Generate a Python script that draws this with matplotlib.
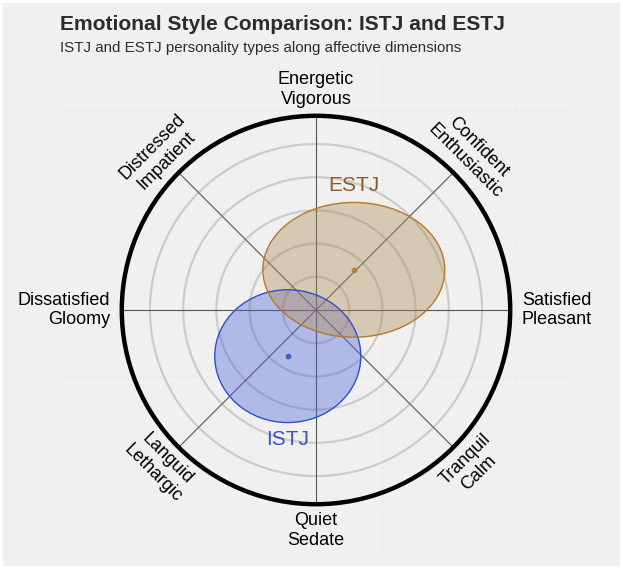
import numpy as np
import matplotlib
matplotlib.use("Agg")
import matplotlib.pyplot as plt
from matplotlib.patches import Ellipse, Circle, Rectangle

plt.rcParams['font.family'] = ['Liberation Sans', 'DejaVu Sans']

# chart data
dim_labels = ["Satisfied\nPleasant", "Confident\nEnthusiastic", "Energetic\nVigorous",
              "Distressed\nImpatient", "Dissatisfied\nGloomy", "Languid\nLethargic",
              "Quiet\nSedate", "Tranquil\nCalm"]
dim_angles = [0, 45, 90, 135, 180, 225, 270, 315]
ring_radii = [1, 2, 3, 4, 5]
outer_radius = 5.85

types = ["ISTJ", "ESTJ"]
centers_x = [-0.85, 1.14]
centers_y = [-1.39, 1.21]
semi_x = [2.2, 2.74]
semi_y = [2.0, 2.03]
fill_colors = ["#4a62d8", "#b08850"]
edge_colors = ["#2f4fc8", "#b8782c"]
text_colors = ["#3a55c0", "#8b5a2b"]

W, H = 623, 569
fig = plt.figure(figsize=(W / 100, H / 100), dpi=100)
fig.patch.set_facecolor("white")
fig.patches.append(Rectangle((3 / W, 3 / H), 1 - 6 / W, 1 - 6 / H, transform=fig.transFigure,
                             facecolor="#f0f0f0", edgecolor="none", zorder=-10))

ax = fig.add_axes([58 / W, 11 / H, 516 / W, 496 / H])
ax.set_facecolor("none")
ax.set_xlim(-7.77, 7.77)
ax.set_ylim(-7.47, 7.47)
ax.set_aspect("equal")
ax.set_xticks([-6, -2, 2, 6])
ax.set_yticks([-6, -2, 2, 6])
ax.tick_params(length=0, labelbottom=False, labelleft=False)
ax.grid(True, color="#e9e9e9", linewidth=0.5, zorder=0)
ax.set_axisbelow(True)
for s in ax.spines.values():
    s.set_visible(False)

# rings
for r in ring_radii:
    ax.add_patch(Circle((0, 0), r, fill=False, edgecolor="#cccccc", linewidth=1.6, zorder=1))

# spokes
for a in dim_angles:
    t = np.deg2rad(a)
    ax.plot([0, outer_radius * np.cos(t)], [0, outer_radius * np.sin(t)],
            color="#555555", linewidth=0.8, zorder=2)

ax.add_patch(Circle((0, 0), outer_radius, fill=False, edgecolor="black", linewidth=3.2, zorder=3))

# dimension labels
for lab, a in zip(dim_labels, dim_angles):
    t = np.deg2rad(a)
    if a == 0:
        ax.text(6.2, 0, lab, ha="left", va="center", fontsize=13, linespacing=1.2)
    elif a == 180:
        ax.text(-6.2, 0, lab, ha="right", va="center", fontsize=13, linespacing=1.2)
    else:
        rot = 0 if a in (90, 270) else (a - 90 if a < 180 else a - 270)
        ax.text(6.65 * np.cos(t), 6.65 * np.sin(t), lab, ha="center", va="center",
                rotation=rot, rotation_mode="anchor", fontsize=13, linespacing=1.2)

# type ellipses
for i, name in enumerate(types):
    ax.add_patch(Ellipse((centers_x[i], centers_y[i]), 2 * semi_x[i], 2 * semi_y[i],
                         facecolor=fill_colors[i], alpha=0.38, edgecolor="none", zorder=4))
    ax.add_patch(Ellipse((centers_x[i], centers_y[i]), 2 * semi_x[i], 2 * semi_y[i],
                         fill=False, edgecolor=edge_colors[i], linewidth=1.0, zorder=5))
    ax.scatter([centers_x[i]], [centers_y[i]], s=10, color=edge_colors[i], alpha=0.8, zorder=6)
    if centers_y[i] > 0:
        ty = centers_y[i] + semi_y[i] + 0.5
    else:
        ty = centers_y[i] - semi_y[i] - 0.5
    ax.text(centers_x[i], ty, name, ha="center", va="center", fontsize=15,
            color=text_colors[i], zorder=7)

fig.text(60 / W, 1 - 24 / H, "Emotional Style Comparison: ISTJ and ESTJ", fontsize=15.1,
         fontweight="bold", color="#2b2b2b", ha="left", va="center")
fig.text(60 / W, 1 - 48 / H, "ISTJ and ESTJ personality types along affective dimensions",
         fontsize=10.9, color="#2b2b2b", ha="left", va="center")

fig.savefig("out.png", dpi=100, facecolor=fig.get_facecolor())
